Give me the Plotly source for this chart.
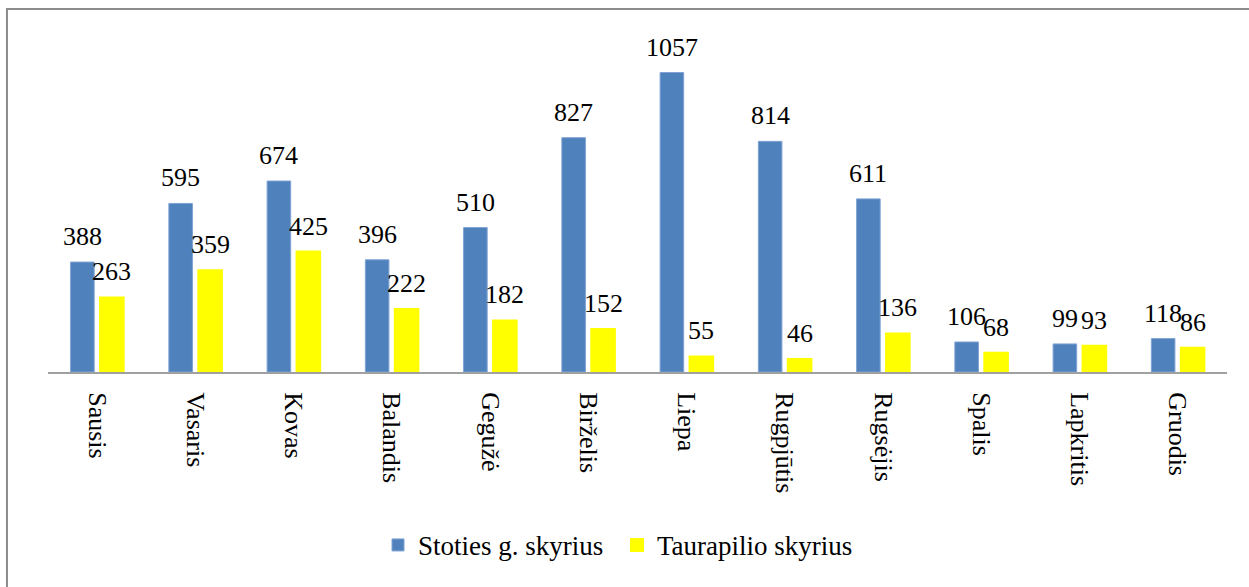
import plotly.graph_objects as go

# menesiai ir skyriu duomenys
menesiai = ['Sausis', 'Vasaris', 'Kovas', 'Balandis', 'Gegužė', 'Birželis',
            'Liepa', 'Rugpjūtis', 'Rugsėjis', 'Spalis', 'Lapkritis', 'Gruodis']
stoties = [388, 595, 674, 396, 510, 827, 1057, 814, 611, 106, 99, 118]
taurapilio = [263, 359, 425, 222, 182, 152, 55, 46, 136, 68, 93, 86]

font = dict(family='Liberation Serif', size=26, color='black')

W, H = 1249, 587
ml, mr, mt, mb = 48, 22, 32, 215
bargap = 0.4
pw = W - ml - mr
# puse stulpelio plocio pikseliais (grupeje po du)
half_slot = pw / len(menesiai) * (1 - bargap) / 4

fig = go.Figure()
fig.add_trace(go.Bar(x=menesiai, y=stoties, name='Stoties g. skyrius',
                     marker=dict(color='#4F81BD', line=dict(color='#7FA3D3', width=1))))
fig.add_trace(go.Bar(x=menesiai, y=taurapilio, name='Taurapilio skyrius',
                     marker=dict(color='#FFFF00', line=dict(color='#FFFF00', width=2))))

# reiksmiu uzrasai virs stulpeliu
for m, a, b in zip(menesiai, stoties, taurapilio):
    fig.add_annotation(x=m, y=a, text=str(a), showarrow=False, yanchor='bottom',
                       xshift=-half_slot, yshift=9, font=font)
    fig.add_annotation(x=m, y=b, text=str(b), showarrow=False, yanchor='bottom',
                       xshift=half_slot, yshift=9, font=font)

fig.update_layout(
    width=W, height=H,
    barmode='group', bargap=bargap, bargroupgap=0.2,
    plot_bgcolor='white', paper_bgcolor='white',
    font=font,
    margin=dict(l=ml, r=mr, t=mt, b=mb, autoexpand=False),
    showlegend=True,
    legend=dict(orientation='h', x=(378 - ml) / pw, xanchor='left', y=-0.51, yanchor='middle',
                font=dict(family='Liberation Serif', size=27, color='black'),
                entrywidth=194, tracegroupgap=0),
)
fig.update_xaxes(tickangle=90, showline=True, linecolor='#A0A0A0', linewidth=2,
                 ticks='outside', ticklen=13, tickcolor='white', tickfont=font,
                 automargin=False)
fig.update_yaxes(range=[0, 1200], visible=False, showgrid=False, automargin=False)

# remelis aplink diagrama
fig.add_shape(type='rect', xref='paper', yref='paper',
              x0=-0.0348, x1=1.2, y0=-1.0, y1=1.0676,
              line=dict(color='#8C8C8C', width=2))

fig.write_html("out.html", config={'displayModeBar': False},
               post_script="document.body.style.margin='0';")
